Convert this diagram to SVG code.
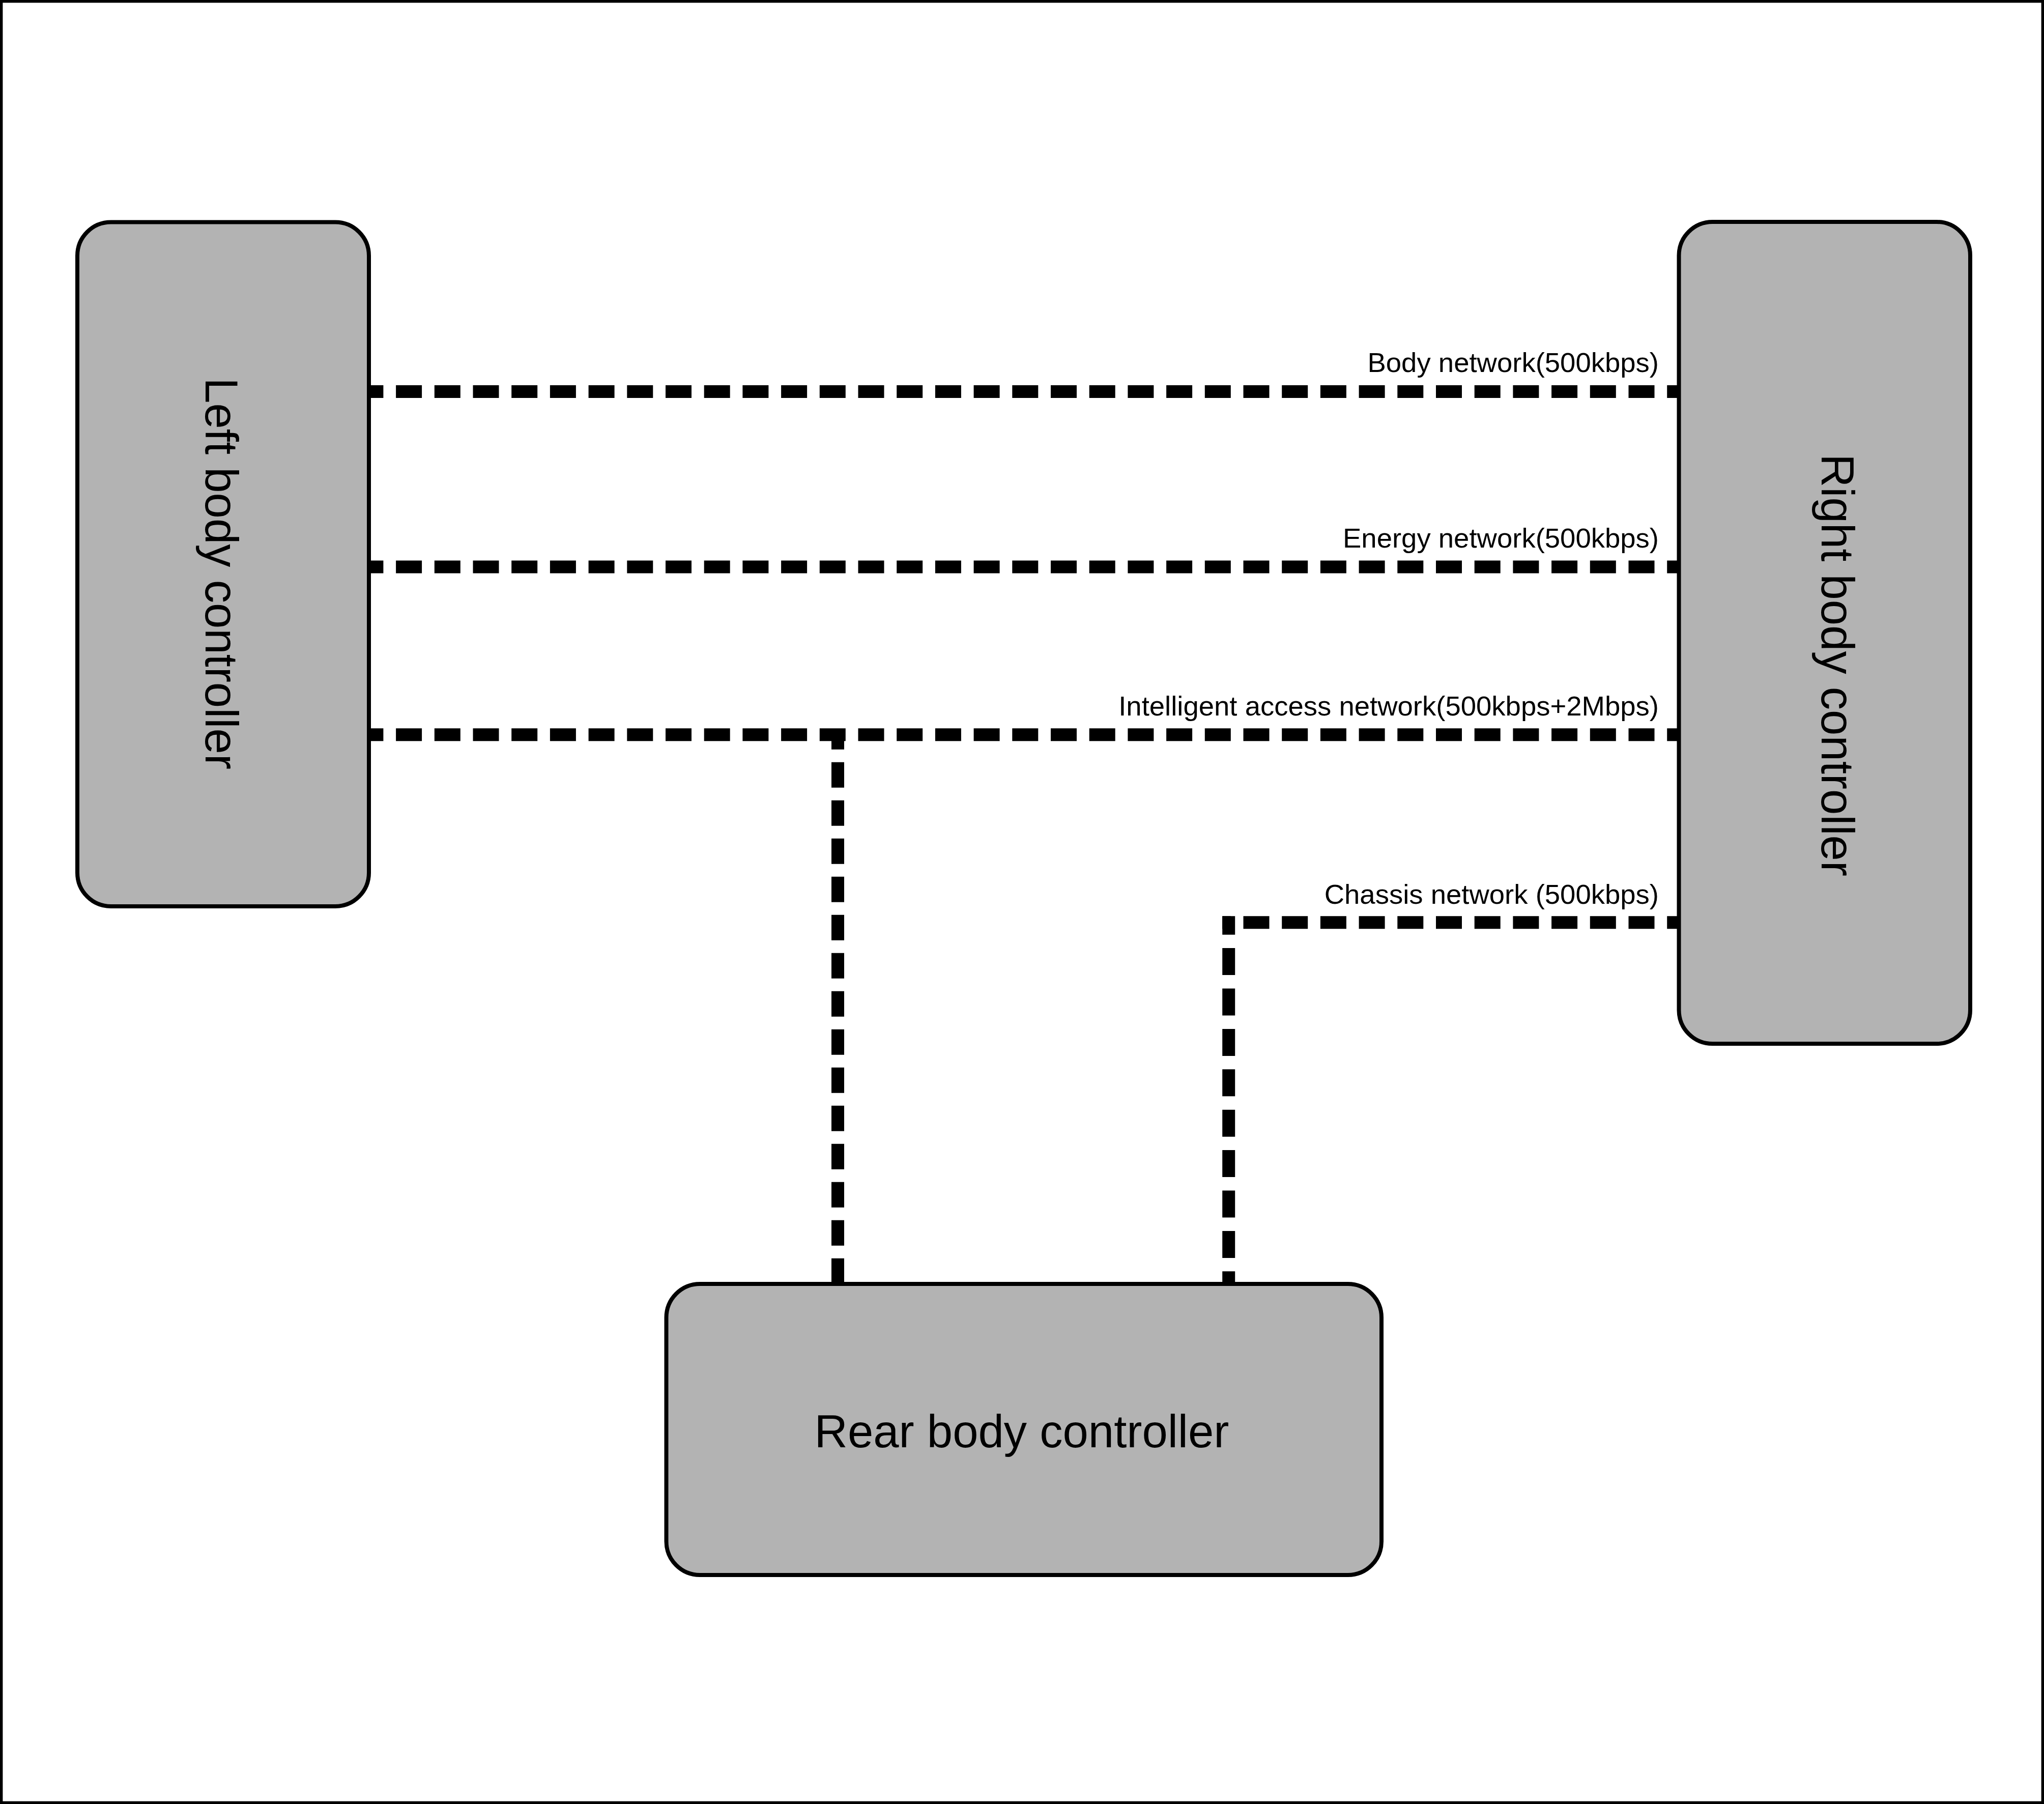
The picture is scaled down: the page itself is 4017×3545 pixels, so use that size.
<svg xmlns="http://www.w3.org/2000/svg" width="4017" height="3545" viewBox="0 0 4017 3545">
<style>
.frame{fill:#ffffff;stroke:#000000;stroke-width:5.4}
.box{fill:#b3b3b3;stroke:#000000;stroke-width:8}
.net{fill:none;stroke:#000000;stroke-width:25;stroke-dasharray:51 24.7}
.netv{fill:none;stroke:#000000;stroke-width:25;stroke-dasharray:50 25}
.netc{fill:none;stroke:#000000;stroke-width:25;stroke-dasharray:53 26.4}
.lbl{font-family:"Liberation Sans",Arial,sans-serif;font-size:54.5px;fill:#000000;text-anchor:end}
.big{font-family:"Liberation Sans",Arial,sans-serif;font-size:90.5px;fill:#000000;text-anchor:middle}
</style>
<rect class="frame" x="2.7" y="2.7" width="4011.6" height="3539.6"/>
<g id="connectors">
<path class="net" d="M702.4 769.5 H3300"/>
<path class="net" d="M702.4 1114 H3300"/>
<path class="net" d="M702.4 1443.7 H3300"/>
<path class="netv" d="M1646.5 1443.7 V2523" stroke-dashoffset="21"/>
<path class="net" d="M2402.2 1812.7 H3300" stroke-dashoffset="34.4"/>
<path class="netc" d="M2414.7 1800.2 V2523" stroke-dashoffset="16.5"/>
<text class="lbl" x="3260" y="731">Body network(500kbps)</text>
<text class="lbl" x="3260" y="1076">Energy network(500kbps)</text>
<text class="lbl" x="3260" y="1406">Intelligent access network(500kbps+2Mbps)</text>
<text class="lbl" x="3260" y="1776">Chassis network (500kbps)</text>
</g>
<g id="left-body-controller">
<rect class="box" x="152" y="436.5" width="573" height="1344.5" rx="66" ry="66"/>
<text class="big" transform="translate(404 1127) rotate(90)" x="0" y="0">Left body controller</text>
</g>
<g id="right-body-controller">
<rect class="box" x="3299.5" y="436" width="572.5" height="1615" rx="66" ry="66"/>
<text class="big" transform="translate(3580 1307) rotate(90)" x="0" y="0">Right body controller</text>
</g>
<g id="rear-body-controller">
<rect class="box" x="1309.5" y="2523" width="1405.5" height="572" rx="66" ry="66"/>
<text class="big" x="2008" y="2844">Rear body controller</text>
</g>
</svg>
